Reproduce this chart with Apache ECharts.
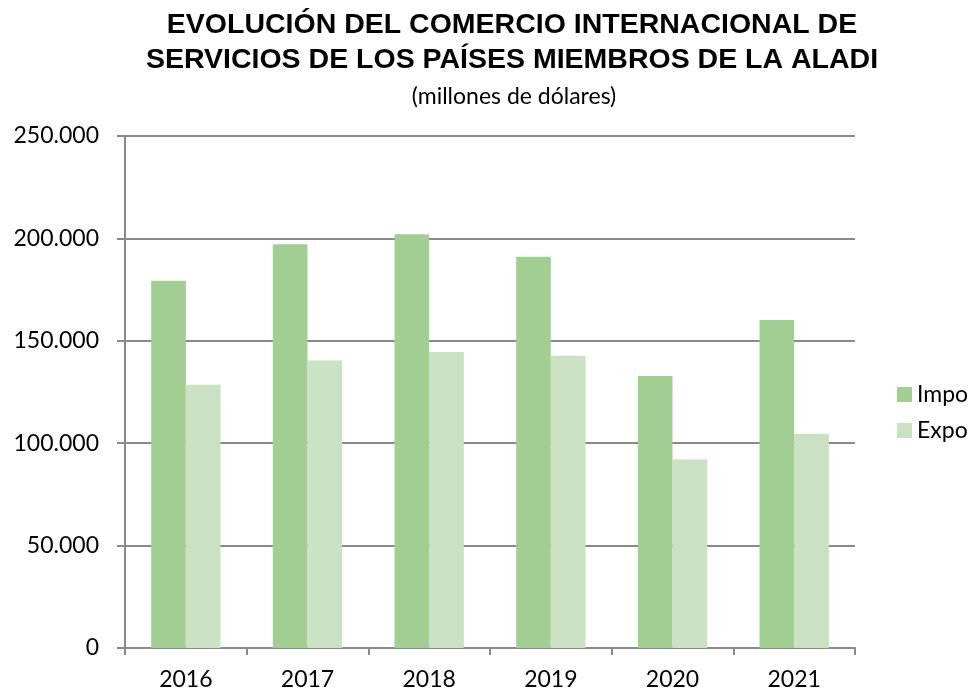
<!DOCTYPE html>
<html>
<head>
<meta charset="utf-8">
<script src="https://cdn.jsdelivr.net/npm/echarts@6/dist/echarts.min.js"></script>
<style>
  html, body { margin: 0; padding: 0; background: #fff; }
  #chart { width: 973px; height: 691px; }
</style>
</head>
<body>
<div id="chart"></div>
<script>
// datos (millones de dólares)
const years = ['2016', '2017', '2018', '2019', '2020', '2021']
const impo = [179300, 197200, 202000, 191000, 132800, 160100]
const expo = [128500, 140400, 144500, 142700, 92100, 104600]
const seriesNames = ['Impo', 'Expo']
const seriesColors = ['#a3ce93', '#cae2c3']

const chart = echarts.init(document.getElementById('chart'))

// separador de miles con punto
const fmt = v => String(v).replace(/\B(?=(\d{3})+(?!\d))/g, '.')

const axisGray = '#898989'
const labelFont = 'Lato, "Noto Sans", sans-serif'

const option = {
  animation: false,
  title: [
    {
      text: 'EVOLUCIÓN DEL COMERCIO INTERNACIONAL DE\nSERVICIOS DE LOS PAÍSES MIEMBROS DE LA ALADI',
      left: 512,
      top: 8,
      padding: 0,
      textAlign: 'center',
      textStyle: {
        fontFamily: '"Liberation Sans", Arial, sans-serif',
        fontWeight: 'bold',
        fontSize: 28.5,
        lineHeight: 35,
        color: '#000'
      }
    },
    {
      text: '(millones de dólares)',
      left: 514,
      top: 85,
      padding: 0,
      textAlign: 'center',
      textStyle: {
        fontFamily: labelFont,
        fontWeight: 'normal',
        fontSize: 23,
        color: '#000'
      }
    }
  ],
  legend: {
    orient: 'vertical',
    left: 897,
    top: 383,
    padding: 0,
    itemWidth: 15,
    itemHeight: 15,
    itemGap: 13,
    icon: 'rect',
    data: seriesNames,
    textStyle: {
      fontFamily: labelFont,
      fontSize: 23,
      color: '#000'
    }
  },
  grid: {
    left: 125,
    right: 118,
    top: 136,
    bottom: 43,
    containLabel: false
  },
  xAxis: {
    type: 'category',
    data: years,
    axisLine: { show: true, lineStyle: { color: axisGray, width: 2 } },
    axisTick: { show: true, inside: false, length: 7, lineStyle: { color: axisGray, width: 2 } },
    axisLabel: {
      margin: 20,
      fontFamily: labelFont,
      fontSize: 23,
      color: '#000'
    },
    splitLine: { show: false }
  },
  yAxis: {
    type: 'value',
    min: 0,
    max: 250000,
    interval: 50000,
    axisLine: { show: true, lineStyle: { color: axisGray, width: 2 } },
    axisTick: { show: true, inside: false, length: 8, lineStyle: { color: axisGray, width: 2 } },
    axisLabel: {
      margin: 26,
      fontFamily: labelFont,
      fontSize: 23,
      color: '#000',
      formatter: fmt
    },
    splitLine: { show: true, lineStyle: { color: axisGray, width: 2 } }
  },
  series: [
    {
      name: seriesNames[0],
      type: 'bar',
      data: impo,
      barGap: '0%',
      barCategoryGap: '43%',
      itemStyle: { color: seriesColors[0] }
    },
    {
      name: seriesNames[1],
      type: 'bar',
      data: expo,
      barGap: '0%',
      barCategoryGap: '43%',
      itemStyle: { color: seriesColors[1] }
    }
  ]
}

chart.setOption(option)
</script>
</body>
</html>
